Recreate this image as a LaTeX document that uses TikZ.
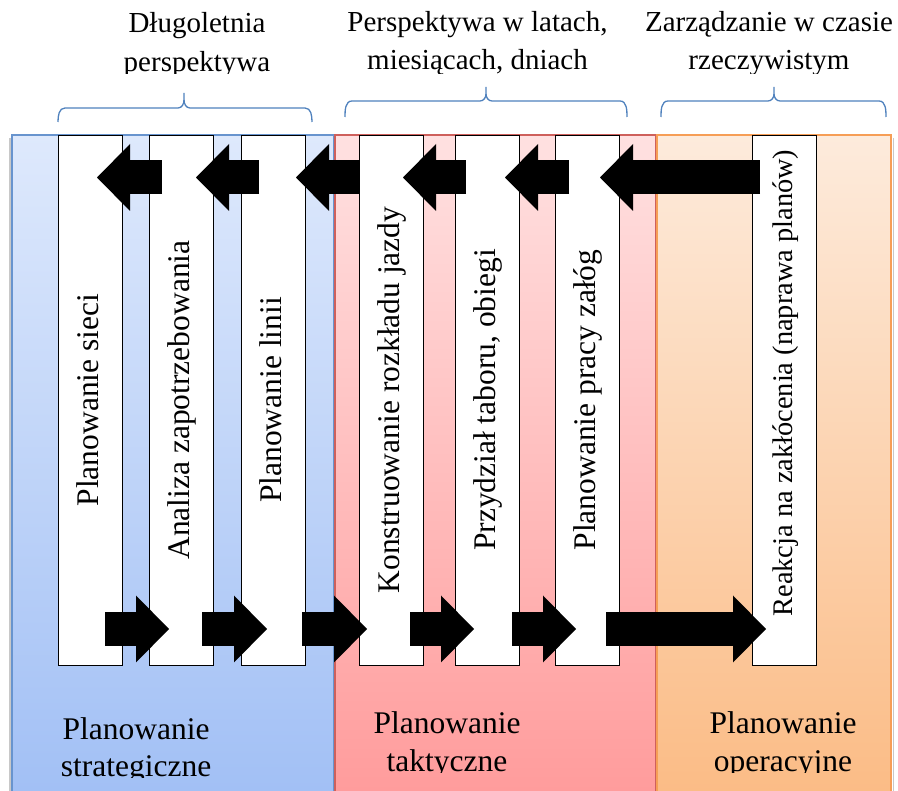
\documentclass[tikz,border=0pt]{standalone}
\usepackage{fontspec}
\setmainfont{Liberation Serif}
\usetikzlibrary{arrows.meta}

% panel tints (top / bottom of the gradient) and outlines
\definecolor{stratTop}{RGB}{222,233,252}
\definecolor{stratBot}{RGB}{162,192,245}
\definecolor{stratLine}{RGB}{104,148,206}
\definecolor{taktTop}{RGB}{255,225,225}
\definecolor{taktBot}{RGB}{255,156,156}
\definecolor{taktLine}{RGB}{206,96,92}
\definecolor{operTop}{RGB}{253,235,220}
\definecolor{operBot}{RGB}{251,188,134}
\definecolor{operLine}{RGB}{246,158,86}
\definecolor{braceBlue}{RGB}{79,129,189}
\definecolor{shadowGray}{RGB}{200,200,200}

\begin{document}
\begin{tikzpicture}[x=1pt,y=-1pt,
  panel/.style={line width=1.2pt},
  stage/.style={draw=black, line width=0.9pt, fill=white,
    minimum width=64pt, minimum height=530pt, inner sep=0pt, outer sep=0pt},
  stagetext/.style={rotate=90, anchor=base, inner sep=0pt,
    font=\fontsize{31.5}{36}\selectfont},
  headtext/.style={anchor=base, inner sep=0pt, font=\fontsize{29}{39}\selectfont},
  leveltext/.style={anchor=base, inner sep=0pt, font=\fontsize{31.5}{37}\selectfont},
  flow/.style={line width=34pt,
    -{Triangle[length=33pt,width=67pt,line width=0pt]}},
  bracket/.style={draw=braceBlue, line width=1.3pt}]

\useasboundingbox (0,0) rectangle (898,791);

% ---- planning levels (background panels) ----
\draw[shadowGray, line width=1.5pt] (10,138) -- (10,791);
\draw[shadowGray, line width=1.5pt] (893.5,138) -- (893.5,791);
\shade[top color=stratTop, bottom color=stratBot] (12,135) rectangle (334,791);
\draw[panel, stratLine] (12,795) -- (12,135) -- (334,135) -- (334,795);
\shade[top color=taktTop, bottom color=taktBot] (335,135) rectangle (656,791);
\draw[panel, taktLine] (335,795) -- (335,135) -- (656,135) -- (656,795);
\shade[top color=operTop, bottom color=operBot] (657,135) rectangle (891,791);
\draw[panel, operLine] (657,795) -- (657,135) -- (891,135) -- (891,795);

% ---- time-horizon braces ----
\draw[bracket] (58,122) to[out=90,in=180] (65,108) -- (178,108)
  to[out=0,in=-90] (184,100) -- (184,93);
\draw[bracket] (184,100) to[out=-90,in=180] (190,108) -- (305,108)
  to[out=0,in=90] (312,122);
\draw[bracket] (345,117) to[out=90,in=180] (352,101) -- (480,101)
  to[out=0,in=-90] (486,94) -- (486,87);
\draw[bracket] (486,94) to[out=-90,in=180] (492,101) -- (620,101)
  to[out=0,in=90] (627,117);
\draw[bracket] (661,117) to[out=90,in=180] (668,101) -- (768,101)
  to[out=0,in=-90] (774,94) -- (774,87);
\draw[bracket] (774,94) to[out=-90,in=180] (780,101) -- (879,101)
  to[out=0,in=90] (886,117);

% ---- horizon captions (second lines cut by their text frames) ----
\node[headtext] (h1a) at (197,33) {Długoletnia};
\node[headtext] (h2a) at (477.5,32) {Perspektywa w latach,};
\node[headtext] (h3a) at (769,32) {Zarządzanie w czasie};
\begin{scope}
  \clip (0,40) rectangle (898,73.5);
  \node[headtext] (h1b) at (197,72) {perspektywa};
  \node[headtext] (h2b) at (477.5,70) {miesiącach, dniach};
  \node[headtext] (h3b) at (769,70) {rzeczywistym};
\end{scope}

% ---- planning stages ----
\node[stage] (s1) at (90,400) {};
\node[stage] (s2) at (181,400) {};
\node[stage] (s3) at (273,400) {};
\node[stage] (s4) at (391,400) {};
\node[stage] (s5) at (487,400) {};
\node[stage] (s6) at (587,400) {};
\node[stage] (s7) at (784,400) {};

\node[stagetext] (l1) at (98.5,400) {Planowanie sieci};
\node[stagetext] (l2) at (189.5,400) {Analiza zapotrzebowania};
\node[stagetext] (l3) at (281.5,400) {Planowanie linii};
\node[stagetext] (l4) at (399.5,400) {Konstruowanie rozkładu jazdy};
\node[stagetext] (l5) at (495.5,400) {Przydział taboru, obiegi};
\node[stagetext] (l6) at (595.5,400) {Planowanie pracy załóg};
\node[stagetext, font=\fontsize{28.4}{33}\selectfont] (l7) at (792.5,383)
  {Reakcja na zakłócenia (naprawa planów)};

% ---- feedback (top row, right to left) ----
\coordinate (f1s) at (162,177.5); \coordinate (f1e) at (97,177.5);
\coordinate (f2s) at (259,177.5); \coordinate (f2e) at (196,177.5);
\coordinate (f3s) at (359,177.5); \coordinate (f3e) at (296,177.5);
\coordinate (f4s) at (466,177.5); \coordinate (f4e) at (403,177.5);
\coordinate (f5s) at (569,177.5); \coordinate (f5e) at (505,177.5);
\coordinate (f6s) at (760,177.5); \coordinate (f6e) at (600,177.5);
\draw[flow] (f1s) -- (f1e);
\draw[flow] (f2s) -- (f2e);
\draw[flow] (f3s) -- (f3e);
\draw[flow] (f4s) -- (f4e);
\draw[flow] (f5s) -- (f5e);
\draw[flow] (f6s) -- (f6e);

% ---- forward flow (bottom row, left to right) ----
\coordinate (g1s) at (105,629); \coordinate (g1e) at (169,629);
\coordinate (g2s) at (202,629); \coordinate (g2e) at (267,629);
\coordinate (g3s) at (302,629); \coordinate (g3e) at (367,629);
\coordinate (g4s) at (410,629); \coordinate (g4e) at (474,629);
\coordinate (g5s) at (512,629); \coordinate (g5e) at (576,629);
\coordinate (g6s) at (606,629); \coordinate (g6e) at (766,629);
\draw[flow] (g1s) -- (g1e);
\draw[flow] (g2s) -- (g2e);
\draw[flow] (g3s) -- (g3e);
\draw[flow] (g4s) -- (g4e);
\draw[flow] (g5s) -- (g5e);
\draw[flow] (g6s) -- (g6e);

% ---- level names (second lines cut by their text frames) ----
\node[leveltext] (p1a) at (136,739) {Planowanie};
\node[leveltext] (p2a) at (447,733) {Planowanie};
\node[leveltext] (p3a) at (783,733) {Planowanie};
\begin{scope}
  \clip (0,745) rectangle (334,777.5);
  \node[leveltext] (p1b) at (136,776) {strategiczne};
\end{scope}
\begin{scope}
  \clip (335,745) rectangle (898,772.5);
  \node[leveltext] (p2b) at (447,771) {taktyczne};
  \node[leveltext] (p3b) at (783,771) {operacyjne};
\end{scope}

\end{tikzpicture}
\end{document}
